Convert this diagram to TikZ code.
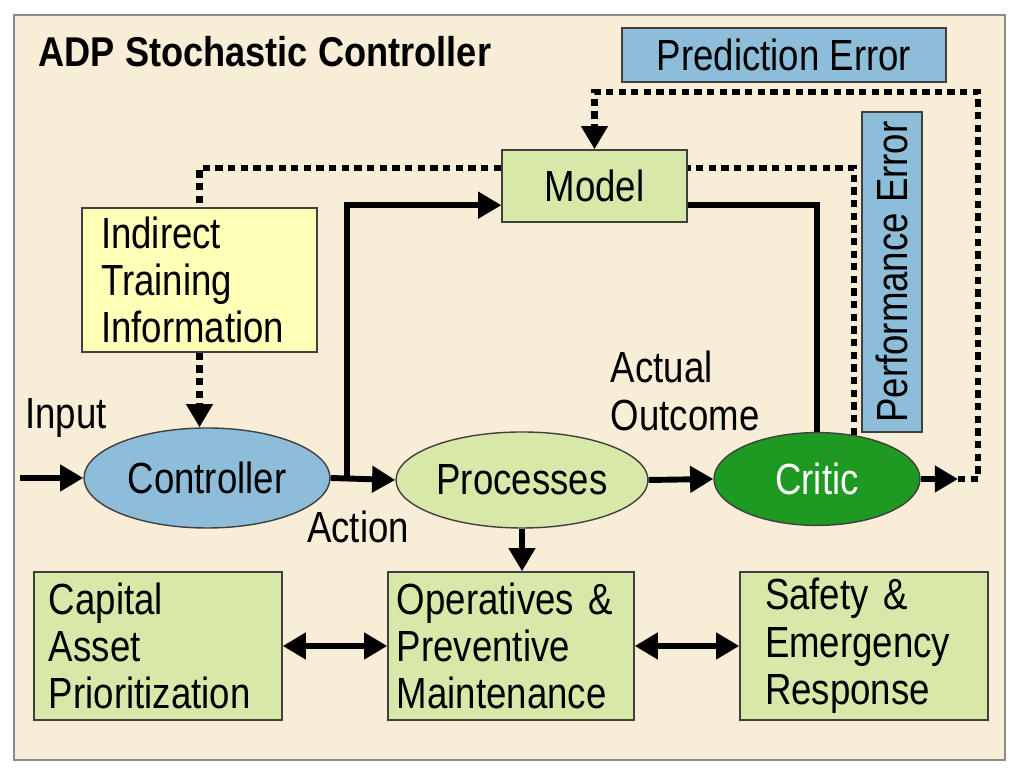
\documentclass[tikz,border=0pt]{standalone}
\usepackage{fontspec}
\setmainfont{Liberation Sans}[FakeStretch=0.84]
\newfontfamily\headfont{Liberation Sans}[FakeStretch=0.87]
\usetikzlibrary{arrows.meta,shapes.geometric}
\definecolor{aBlue}{HTML}{8DBDD8}
\definecolor{aGreen}{HTML}{D7E8A8}
\definecolor{aDark}{HTML}{1E9A22}
\definecolor{aYellow}{HTML}{FFFFB8}
\definecolor{aPaper}{HTML}{F8EDD6}

\begin{document}
\begin{tikzpicture}[x=0.125mm, y=-0.125mm, >={Triangle[length=2.9mm, width=3.2mm]}]
		\tikzstyle{TXT} = [font=\fontsize{15.5}{16.8}\selectfont]
		\tikzstyle{OVAL} = [TXT, ellipse, draw=black!75, line width=0.5pt, inner sep=0pt]
		\tikzstyle{BOX} = [TXT, rectangle, draw=black!75, line width=0.5pt]
		\tikzstyle{blueOval} = [OVAL, fill=aBlue]
		\tikzstyle{greenOval} = [OVAL, fill=aGreen]
		\tikzstyle{criticOval} = [OVAL, fill=aDark, text=white]
		\tikzstyle{blueBox} = [BOX, fill=aBlue]
		\tikzstyle{greenBox} = [BOX, fill=aGreen]
		\tikzstyle{noteBox} = [BOX, fill=aYellow, align=left, inner ysep=0pt]
		\tikzstyle{task} = [greenBox, align=left, inner ysep=0pt, minimum height=18.5mm]
		\tikzstyle{flow} = [line width=2.1pt]
		\tikzstyle{signal} = [line width=2.2pt, dash pattern=on 2.6pt off 1.9pt]

		\useasboundingbox (0,0) rectangle (1024,776);
		\fill[white] (0,0) rectangle (1024,776);
		\draw[draw=black!45, fill=aPaper] (14,15) rectangle (1005,760);

		\node[anchor=west, inner sep=0pt, font=\headfont\bfseries\fontsize{14.8}{16}\selectfont] (title) at (38, 52) {ADP Stochastic Controller};
		\node[blueBox, minimum width=40.5mm, minimum height=6.75mm] (predErr) at (784, 55) {Prediction Error};
		\node[blueBox, rotate=90, minimum width=40mm, minimum height=7.5mm] (perfErr) at (892, 272) {Performance Error};
		\node[noteBox, text width=24.6mm, inner xsep=2.4mm, minimum height=18mm] (iti) at (199.5, 280) {Indirect\\Training\\Information};

		\node[blueOval, minimum width=30.75mm, minimum height=12.5mm] (ctrl) at (207, 478) {Controller};
		\node[greenOval, minimum width=31.5mm, minimum height=12mm] (proc) at (522, 480) {Processes};
		\node[criticOval, minimum width=25.75mm, minimum height=11.6mm] (critic) at (817, 479) {Critic};

		\node[task, text width=27.25mm, inner xsep=1.875mm] (cap) at (158, 646) {Capital\\Asset\\Prioritization};
		\node[task, text width=28.5mm, inner xsep=1.125mm] (ops) at (511, 646) {Operatives \&\\Preventive\\Maintenance};
		\node[task, text width=24.75mm, inner xsep=3.125mm] (safety) at (864, 646) {Safety \&\\Emergency\\Response};

		\node[TXT] (inLbl) at (66, 418) {Input};
		\node[TXT] (actLbl) at (358, 527) {Action};
		\node[TXT, align=left, anchor=west] (outLbl) at (601, 391) {Actual\\Outcome};

		\coordinate (inStart) at (20, 478);
		\coordinate (split) at (347, 478);
		\coordinate (critOut) at (958, 479);
		\coordinate (predTurn) at (978, 92);
		\coordinate (perfTurn) at (852, 168);

		% training paths (under the model box)
		\draw[signal] (critic.50) -- (critic.50 |- perfTurn) -| (iti.north);
		\draw[signal, ->] (iti.south) -- (iti.south |- ctrl.north);

		\node[greenBox, minimum width=23.1mm, minimum height=9mm] (model) at (594.5, 186) {Model};

		\draw[flow, ->] (inStart) -- (ctrl.west);
		\draw[flow, ->] (ctrl.east) -- (proc.west);
		\draw[flow, ->] (split) |- ([yshift=-2.4mm]model.west);
		\draw[flow] ([yshift=-2.4mm]model.east) -| (critic.north);
		\draw[flow, ->] (proc.east) -- (critic.west);
		\draw[flow, ->] (proc.south) -- (proc.south |- ops.north);
		\draw[flow, <->] (cap.east) -- (ops.west);
		\draw[flow, <->] (ops.east) -- (safety.west);
		\draw[flow, ->] (critic.east) -- (critOut);
		\draw[signal, ->] (critOut) -| (predTurn) -| (model.north);

\end{tikzpicture}
\end{document}
